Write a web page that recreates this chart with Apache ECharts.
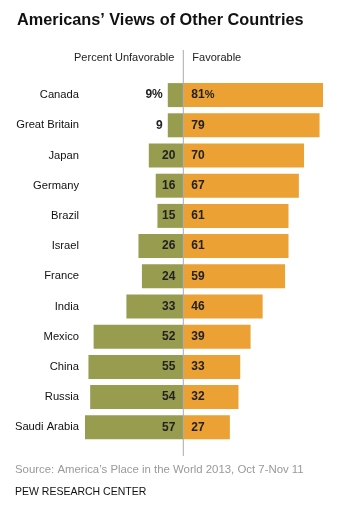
<!DOCTYPE html>
<html><head><meta charset="utf-8">
<script src="https://cdn.jsdelivr.net/npm/echarts@6/dist/echarts.min.js"></script>
<style>html,body{margin:0;padding:0;background:#fff}#c{width:343px;height:511px}</style>
</head><body><div id="c"></div>
<script>
const countries = ['Canada','Great Britain','Japan','Germany','Brazil','Israel','France','India','Mexico','China','Russia','Saudi Arabia'];
const unfavorable = [9,9,20,16,15,26,24,33,52,55,54,57];
const favorable = [81,79,70,67,61,61,59,46,39,33,32,27];

const GREEN = '#979c4f', ORANGE = '#eba133';
const chart = echarts.init(document.getElementById('c'), null, {renderer:'canvas'});
const numFont = {fontFamily:'Liberation Sans', fontSize:12, fontWeight:'bold', color:'#222'};

const unfData = unfavorable.map((v,i)=>{
  const item = {value:-v};
  if (v < 12) item.label = {position:'left', distance:5};
  return item;
});
const favData = favorable.map(v=>({value:v}));

chart.setOption({
  animation:false,
  title:{text:'Americans\u2019 Views of Other Countries', left:12, top:8,
    textStyle:{fontFamily:'Liberation Sans', fontSize:16.3, fontWeight:'bold', color:'#111'}},
  grid:{left:85, width:238, top:80, height:362.4},
  xAxis:{type:'value', min:-57, max:81, show:false},
  yAxis:{type:'category', inverse:true, data:countries,
    axisLine:{show:false}, axisTick:{show:false},
    axisLabel:{margin:6, fontFamily:'Liberation Sans', fontSize:11.2, color:'#111'}},
  series:[
    {type:'bar', stack:'a', data:unfData, barWidth:24, itemStyle:{color:GREEN},
      label:{show:true, position:'insideRight', distance:8, ...numFont,
        formatter:p=> Math.abs(p.value) + (p.dataIndex===0?'%':'')}},
    {type:'bar', stack:'a', data:favData, barWidth:24, itemStyle:{color:ORANGE},
      label:{show:true, position:'insideLeft', distance:8, ...numFont,
        formatter:p=> p.dataIndex===0 ? '{b|'+p.value+'}{n|%}' : String(p.value),
        rich:{b:{...numFont}, n:{fontFamily:'Liberation Sans', fontSize:11, color:'#222'}}}}
  ]
});

const x0 = chart.convertToPixel({xAxisIndex:0}, 0);
chart.setOption({graphic:[
  {type:'line', shape:{x1:x0, y1:50, x2:x0, y2:456}, style:{stroke:'#aaa', lineWidth:1}, z:100},
  {type:'text', x:x0-9, y:58, style:{text:'Percent Unfavorable', align:'right', verticalAlign:'middle',
    font:'11px "Liberation Sans"', fill:'#222'}},
  {type:'text', x:x0+9, y:58, style:{text:'Favorable', align:'left', verticalAlign:'middle',
    font:'11px "Liberation Sans"', fill:'#222'}},
  {type:'text', x:15, y:470, style:{text:'Source: America\u2019s Place in the World 2013, Oct 7-Nov 11', verticalAlign:'middle',
    font:'11.4px "Liberation Sans"', fill:'#999'}},
  {type:'text', x:15, y:492, style:{text:'PEW RESEARCH CENTER', verticalAlign:'middle',
    font:'10.5px "Liberation Sans"', fill:'#111'}}
]});
</script></body></html>
